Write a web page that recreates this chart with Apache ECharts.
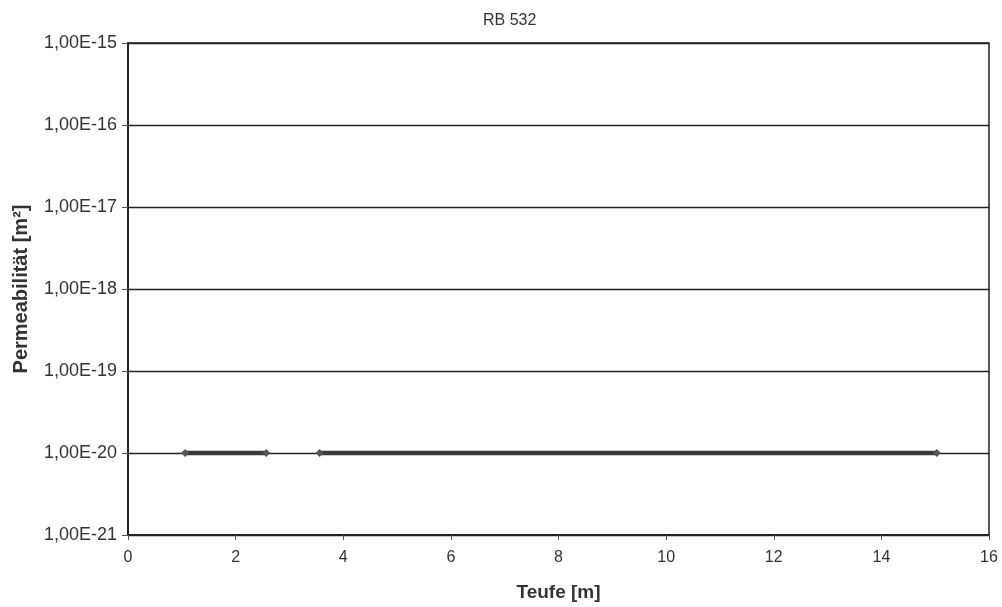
<!DOCTYPE html>
<html><head><meta charset="utf-8">
<script src="https://cdn.jsdelivr.net/npm/echarts@6/dist/echarts.min.js"></script>
<style>html,body{margin:0;padding:0;background:#fff}#c{width:1002px;height:607px}</style>
</head><body><div id="c"></div>
<script>
var title = 'RB 532';
var xName = 'Teufe [m]';
var yName = 'Permeabilität [m²]';
var seg1Depth = [1.06, 2.57];
var seg1Perm = [1e-20, 1e-20];
var seg2Depth = [3.56, 15.03];
var seg2Perm = [1e-20, 1e-20];
var yTickExponents = [-21, -20, -19, -18, -17, -16, -15];

function pairs(xs, ys){ return xs.map(function(x,i){return [x, Math.log10(ys[i])];}); }
function fmt(v){ var e = Math.round(v); return '1,00E' + (e<0?'-':'+') + Math.abs(e); }

var chart = echarts.init(document.getElementById('c'));
var lineStyle = {color:'#3a3a3a', width:4.5};
var itemStyle = {color:'#555'};
var font = 'Liberation Sans';
chart.setOption({
  animation:false,
  backgroundColor:'#fff',
  title:{text:title, left:478, top:8, textStyle:{fontFamily:font, fontSize:16, fontWeight:'normal', color:'#333'}},
  grid:{left:128, right:13, top:43, bottom:71, show:true, borderColor:'#222', borderWidth:1.5},
  xAxis:{type:'value', min:0, max:16, interval:2, name:xName, nameLocation:'middle', nameGap:48,
    nameTextStyle:{fontFamily:font, fontSize:19, fontWeight:'bold', color:'#333'},
    axisLine:{lineStyle:{color:'#222', width:2}}, axisTick:{show:true, length:5, lineStyle:{color:'#555'}},
    axisLabel:{fontFamily:font, fontSize:16, color:'#333', margin:15},
    splitLine:{show:false}},
  yAxis:{type:'value', min:yTickExponents[0], max:yTickExponents[yTickExponents.length-1], interval:1, name:yName, nameLocation:'middle', nameGap:97, nameRotate:90,
    nameTextStyle:{fontFamily:font, fontSize:20, fontWeight:'bold', color:'#333'},
    axisLine:{show:true, lineStyle:{color:'#222', width:2}}, axisTick:{show:true, length:6, lineStyle:{color:'#555'}},
    axisLabel:{fontFamily:font, fontSize:18, color:'#333', margin:11, formatter:fmt},
    splitLine:{show:true, lineStyle:{color:'#222', width:1.3}}},
  series:[
    {type:'line', data:pairs(seg1Depth, seg1Perm), symbol:'diamond', symbolSize:8, lineStyle:lineStyle, itemStyle:itemStyle},
    {type:'line', data:pairs(seg2Depth, seg2Perm), symbol:'diamond', symbolSize:8, lineStyle:lineStyle, itemStyle:itemStyle}
  ]
});
</script></body></html>
